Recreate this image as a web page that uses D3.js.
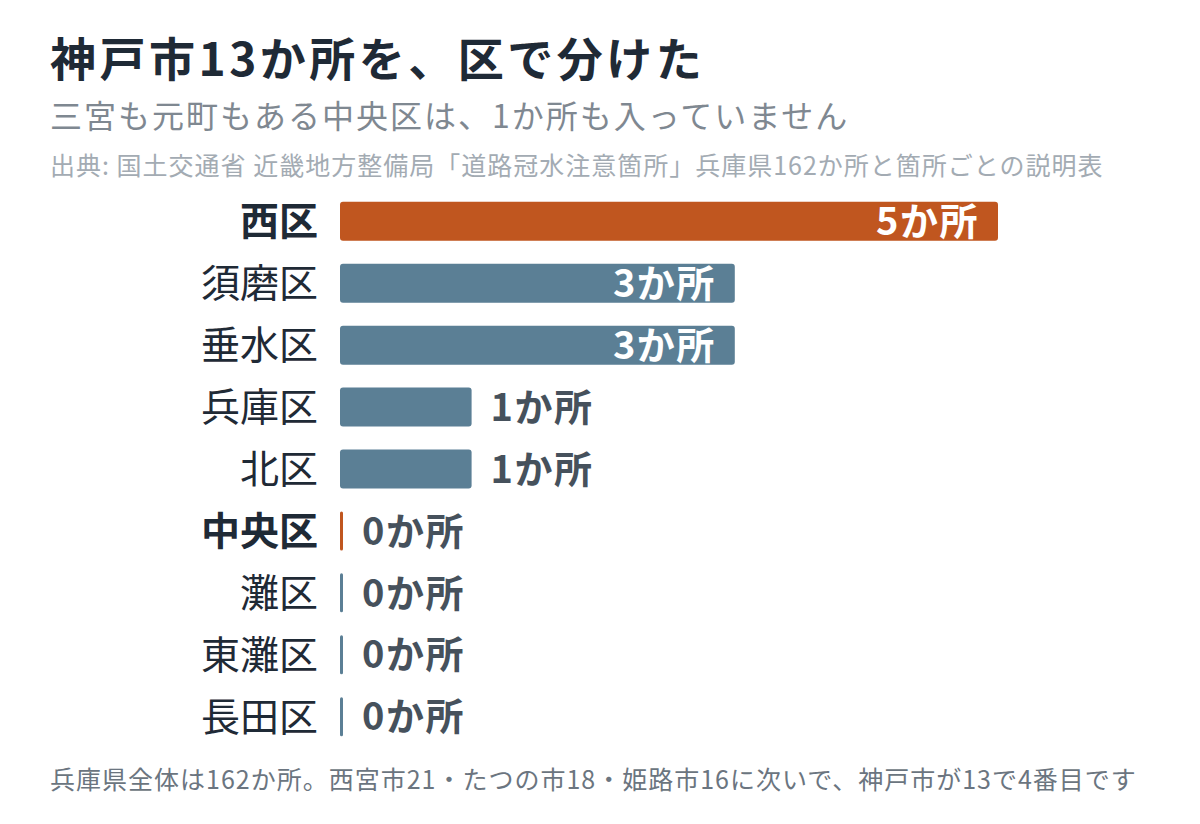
<!DOCTYPE html>
<html>
<head>
<meta charset="utf-8">
<script src="https://cdn.jsdelivr.net/npm/d3@7"></script>
<style>
  body { margin: 0; background: #fff; }
  text { font-family: "Noto Sans CJK JP", "Noto Sans", sans-serif; }
</style>
</head>
<body>
<div id="chart"></div>
<script>
const wards = ["西区", "須磨区", "垂水区", "兵庫区", "北区", "中央区", "灘区", "東灘区", "長田区"];
const counts = [5, 3, 3, 1, 1, 0, 0, 0, 0];
const highlight = ["西区", "中央区"];

const title = "神戸市13か所を、区で分けた";
const subtitle = "三宮も元町もある中央区は、1か所も入っていません";
const source = "出典: 国土交通省 近畿地方整備局「道路冠水注意箇所」兵庫県162か所と箇所ごとの説明表";
const footnote = "兵庫県全体は162か所。西宮市21・たつの市18・姫路市16に次いで、神戸市が13で4番目です";

const width = 1200, height = 824;
const orange = "#c0561f", blue = "#5b7f95";

const svg = d3.select("#chart").append("svg")
    .attr("width", width)
    .attr("height", height);

svg.append("text").attr("x", 50).attr("y", 76)
    .attr("font-size", 46).attr("font-weight", 700).attr("fill", "#1f2a36")
    .attr("letter-spacing", 3.5)
    .text(title);
svg.append("text").attr("x", 50).attr("y", 128)
    .attr("font-size", 32).attr("fill", "#7f8891").attr("letter-spacing", 2)
    .text(subtitle);
svg.append("text").attr("x", 50).attr("y", 175)
    .attr("font-size", 25).attr("fill", "#a3abb3").attr("letter-spacing", 1)
    .text(source);
svg.append("text").attr("x", 50).attr("y", 789)
    .attr("font-size", 25).attr("fill", "#6b7580").attr("letter-spacing", 1)
    .text(footnote);

const x = d3.scaleLinear().domain([0, 5]).range([340, 998]);
const y = d3.scaleBand().domain(wards).range([190, 748]).paddingInner(0.37).paddingOuter(0.19);

const g = svg.append("g");

// ward labels
g.selectAll("text.ward")
  .data(wards)
  .join("text")
    .attr("class", "ward")
    .attr("x", 318)
    .attr("y", d => y(d) + y.bandwidth() / 2)
    .attr("dy", "0.36em")
    .attr("text-anchor", "end")
    .attr("font-size", 39)
    .attr("font-weight", d => highlight.includes(d) ? 700 : 400)
    .attr("fill", "#1f2a36")
    .text(d => d);

const rows = wards.map((w, i) => ({ ward: w, n: counts[i] }));

// bars (zero values drawn as a thin tick)
g.selectAll("rect.bar")
  .data(rows)
  .join("rect")
    .attr("class", "bar")
    .attr("x", x(0))
    .attr("y", d => y(d.ward))
    .attr("width", d => Math.max(x(d.n) - x(0), 3))
    .attr("height", y.bandwidth())
    .attr("rx", d => d.n === 0 ? 1.5 : 3)
    .attr("fill", d => highlight.includes(d.ward) ? orange : blue);

// value labels
g.selectAll("text.val")
  .data(rows)
  .join("text")
    .attr("class", "val")
    .attr("x", d => d.n >= 3 ? x(d.n) - 19 : x(d.n) + (d.n === 0 ? 22 : 19))
    .attr("y", d => y(d.ward) + y.bandwidth() / 2)
    .attr("dy", "0.36em")
    .attr("text-anchor", d => d.n >= 3 ? "end" : "start")
    .attr("font-size", 38)
    .attr("font-weight", 600)
    .attr("letter-spacing", 1.5)
    .attr("fill", d => d.n >= 3 ? "#fff" : "#46515c")
    .text(d => d.n + "か所");
</script>
</body>
</html>
